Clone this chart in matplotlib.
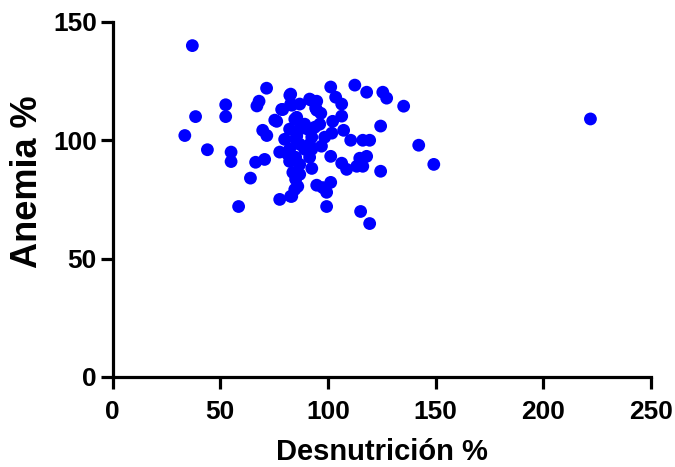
import matplotlib
matplotlib.use("Agg")
import matplotlib.pyplot as plt

plt.rcParams['font.family'] = ['Liberation Sans', 'DejaVu Sans']
plt.rcParams['font.weight'] = 'bold'

# desnutrición (%) vs anemia (%) per district
desnutricion = [
    37, 38.5, 33.5, 44, 52.5, 52.5, 55, 55, 64, 58.5,
    71.5, 68, 67, 69.7, 71.6, 66.4, 70.6, 77.6, 82.7, 77.6,
    82.7, 78.5, 75.3, 82.3, 79, 83.2, 76.2, 85.5, 82.7,
    101.3, 112.5, 118, 125.5, 127.3, 135.2, 103.6, 106.4, 92, 94.8,
    94.8, 96.7, 106.4, 102.2, 107.3, 124.5, 110.6, 116.2, 119.4, 142.2,
    149.2, 101.3, 106.4, 108.7, 113.4, 114.8, 118, 116.2, 124.5, 92.5,
    94.8, 99.4, 101.3, 99.4, 115.2, 119.4, 101.8, 97, 92.5, 85.5,
    83.7, 86, 83.2, 84.6, 97.6, 91.5, 94.3,
    86.9, 89.2, 86.9, 82.2, 85, 90.6, 92.5, 96.2, 86.9, 82.2,
    89.2, 85, 91.5, 82.2, 86.9, 79.9, 84.6, 93.9, 98.5, 91.5,
    81.3, 86.9, 85, 222,
]
anemia = [
    140, 110, 102, 96, 115, 110, 95, 91, 84, 72,
    122, 116.5, 114.5, 104.2, 102, 90.7, 91.9, 75, 76.3, 95,
    119.5, 113, 108.5, 119, 113, 114.8, 108, 109.7, 115.3,
    122.5, 123.3, 120.3, 120.3, 117.8, 114.4, 118.2, 115.3, 117, 116.5,
    112.7, 111.4, 110.2, 108, 104.2, 106, 100, 100, 100, 97.9,
    89.8, 93.2, 90.3, 87.7, 89, 92.4, 93.2, 89, 86.9, 88.1,
    81, 78, 82.2, 72, 69.9, 64.8, 103, 97.5, 96.2, 101.7,
    86.4, 80.5, 76.3, 79.2, 80, 117.4, 113.6,
    115.3, 106.8, 104.7, 104.7, 100.4, 104.7, 101.3, 106.8, 98.3, 96.2,
    96.2, 92.8, 92.8, 91.1, 89.8, 100.4, 108.9, 105.5, 101.3, 98.3,
    94.1, 85.6, 83.5, 109,
]

x_ticks = [0, 50, 100, 150, 200, 250]
y_ticks = [0, 50, 100, 150]

fig = plt.figure(figsize=(6.75, 4.67), dpi=100)
ax = fig.add_axes([0.167, 0.193, 0.797, 0.760])

ax.scatter(desnutricion, anemia, s=85, color='#0000ff', edgecolors='none',
           clip_on=False, zorder=3)

ax.set_xlim(0, 250)
ax.set_ylim(0, 150)
ax.set_xticks(x_ticks)
ax.set_yticks(y_ticks)

for side in ('top', 'right'):
    ax.spines[side].set_visible(False)
for side in ('left', 'bottom'):
    ax.spines[side].set_linewidth(2.3)
ax.tick_params(width=2.3, length=8.5, labelsize=19, direction='out')
ax.tick_params(axis='x', pad=8)
ax.tick_params(axis='y', pad=3)
for lab in ax.get_xticklabels() + ax.get_yticklabels():
    lab.set_fontweight('bold')

ax.set_xlabel('Desnutrición %', fontsize=21, fontweight='bold', labelpad=10.5)
ax.set_ylabel('Anemia %', fontsize=26, fontweight='bold', labelpad=6)
# label sits a little above the middle of the axis
ax.yaxis.label.set_y(0.55)

fig.savefig('out.png', dpi=100)
